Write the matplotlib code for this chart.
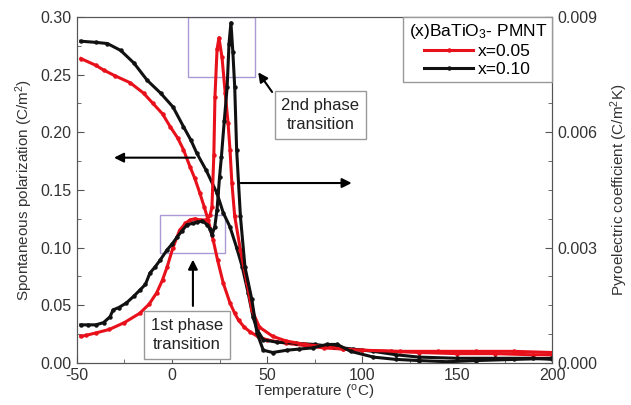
import matplotlib
matplotlib.use("Agg")
import matplotlib.pyplot as plt
from matplotlib.patches import Rectangle
from matplotlib.ticker import MultipleLocator, FormatStrFormatter

plt.rcParams['font.family'] = ['Liberation Sans', 'DejaVu Sans']
plt.rcParams['mathtext.default'] = 'regular'
plt.rcParams['axes.unicode_minus'] = False

# spontaneous polarization (C/m^2), left axis
t_p005 = [-48, -40, -36, -30, -22, -15, -10, -5, -1, 3, 6, 9.5, 12, 14.7, 17, 19, 21.6, 24,
          27, 30.5, 33, 35, 38, 41, 45, 50, 60, 70, 80, 90, 100, 115, 130, 150, 170, 190, 200]
p005 = [0.264, 0.258, 0.254, 0.249, 0.243, 0.234, 0.225, 0.216, 0.205, 0.195, 0.185, 0.170,
        0.160, 0.147, 0.135, 0.124, 0.107, 0.089, 0.069, 0.052, 0.043, 0.037, 0.031, 0.027,
        0.023, 0.020, 0.017, 0.015, 0.013, 0.012, 0.011, 0.010, 0.009, 0.008, 0.008, 0.007, 0.007]

t_p010 = [-48, -40, -34, -27, -20, -13, -6, 0.5, 6, 10, 13, 18, 23.7, 27, 30.5, 34, 37, 40,
          42.6, 44.7, 48, 55, 65, 75, 85, 95, 106, 118, 130, 150, 170, 190, 200]
p010 = [0.279, 0.278, 0.277, 0.271, 0.260, 0.245, 0.234, 0.222, 0.205, 0.193, 0.182, 0.167,
        0.147, 0.130, 0.118, 0.100, 0.083, 0.061, 0.040, 0.029, 0.020, 0.018, 0.017, 0.016,
        0.014, 0.012, 0.010, 0.007, 0.005, 0.004, 0.004, 0.004, 0.003]

# pyroelectric coefficient (C/m^2K), right axis
t_py005 = [-48, -45, -40, -33, -25, -17, -12, -8, -5, -2.6, 0.5, 4, 7, 9.5, 12, 14.7, 18, 20,
           21, 22, 22.6, 23.7, 24.7, 26.3, 28, 29.5, 30.5, 31.5, 33, 36, 39.5, 42, 46, 53, 60,
           70, 80, 90, 100, 120, 140, 160, 180, 200]
py005 = [0.00069, 0.00072, 0.00078, 0.00087, 0.00105, 0.00129, 0.00153, 0.00183, 0.00216,
         0.00249, 0.00300, 0.00345, 0.00363, 0.00372, 0.00375, 0.00372, 0.00372, 0.00384,
         0.00405, 0.00540, 0.00693, 0.00816, 0.00846, 0.00795, 0.00702, 0.00624, 0.00555,
         0.00468, 0.00381, 0.00294, 0.00207, 0.00138, 0.00093, 0.00069, 0.00057, 0.00048,
         0.00042, 0.00036, 0.00033, 0.00030, 0.00030, 0.00030, 0.00030, 0.00027]

t_py010 = [-48, -44, -40, -36, -32.6, -31, -28, -24, -20, -17, -14, -11.6, -9, -6.3, -2.6, 0,
           2.6, 5, 8, 11, 13, 16, 18.4, 20, 21, 22.5, 23.7, 25, 26, 27.5, 29, 30, 31, 32, 33,
           34, 36, 38.4, 42, 44.7, 48, 53, 60.5, 67, 74, 81.5, 87, 94, 106, 118, 130, 145,
           160, 180, 200]
py010 = [0.00099, 0.00099, 0.00099, 0.00105, 0.00120, 0.00138, 0.00144, 0.00156, 0.00174,
         0.00189, 0.00204, 0.00234, 0.00249, 0.00267, 0.00294, 0.00309, 0.00327, 0.00342,
         0.00360, 0.00363, 0.00366, 0.00369, 0.00360, 0.00348, 0.00333, 0.00354, 0.00399,
         0.00483, 0.00537, 0.00630, 0.00717, 0.00831, 0.00885, 0.00810, 0.00717, 0.00555,
         0.00381, 0.00249, 0.00165, 0.00078, 0.00033, 0.00027, 0.00033, 0.00036, 0.00039,
         0.00048, 0.00048, 0.00030, 0.00015, 0.00009, 0.00006, 0.00003, 0.00006, 0.00009,
         0.00012]

red = '#e8101a'
blk = '#111111'
grey = '#555555'

fig = plt.figure(figsize=(6.31, 4.05), dpi=100)
ax = fig.add_axes([0.122, 0.104, 0.753, 0.854])
ax2 = ax.twinx()

style = dict(lw=2.2, marker='o', ms=2.2)
ax.plot(t_p005, p005, color=red, **style)
ax.plot(t_p010, p010, color=blk, **style)
l1, = ax2.plot(t_py005, py005, color=red, **style)
l2, = ax2.plot(t_py010, py010, color=blk, **style)

ax.set_xlim(-50, 200)
ax.set_ylim(0, 0.30)
ax2.set_ylim(0, 0.009)

ax.xaxis.set_major_locator(MultipleLocator(50))
ax.xaxis.set_minor_locator(MultipleLocator(25))
ax.yaxis.set_major_locator(MultipleLocator(0.05))
ax.yaxis.set_minor_locator(MultipleLocator(0.025))
ax.yaxis.set_major_formatter(FormatStrFormatter('%.2f'))
ax2.yaxis.set_major_locator(MultipleLocator(0.003))
ax2.yaxis.set_minor_locator(MultipleLocator(0.00075))
ax2.yaxis.set_major_formatter(FormatStrFormatter('%.3f'))

for a in (ax, ax2):
    a.tick_params(which='both', direction='in', colors=grey, labelcolor='#333333', labelsize=11.5)
    a.tick_params(which='major', length=5, pad=4)
    a.tick_params(which='minor', length=3)
    for s in a.spines.values():
        s.set_color(grey)
ax.tick_params(top=False, right=False)
ax2.tick_params(left=False)

ax.set_xlabel('Temperature ($^{o}$C)', fontsize=11, color='#333333', labelpad=0)
ax.set_ylabel('Spontaneous polarization (C/m$^2$)', fontsize=11, color='#333333', labelpad=4)
ax2.set_ylabel('Pyroelectric coefficient (C/m$^2$K)', fontsize=11, color='#333333', labelpad=8)

# highlight boxes
ax.add_patch(Rectangle((8.4, 0.248), 35.3, 0.052, fill=False, ec='#a99ad6', lw=1))
ax.add_patch(Rectangle((-6.3, 0.0954), 34.2, 0.0326, fill=False, ec='#a99ad6', lw=1))

arrow = dict(arrowstyle='-|>', color='black', lw=1.5, mutation_scale=14)
ax.annotate('', xy=(-32, 0.178), xytext=(13.5, 0.178), arrowprops=arrow)
ax.annotate('', xy=(96, 0.156), xytext=(34.7, 0.156), arrowprops=arrow)
ax.annotate('', xy=(11, 0.092), xytext=(11, 0.047), arrowprops=arrow)
ax.annotate('', xy=(44.5, 0.254), xytext=(53.5, 0.233), arrowprops=arrow)

box = dict(boxstyle='square,pad=0.4', fc='white', ec='#999999', lw=1)
ax.text(78, 0.215, '2nd phase\ntransition', fontsize=12, ha='center', va='center',
        color='#222222', bbox=box, linespacing=1.35)
ax.text(7.9, 0.024, '1st phase\ntransition', fontsize=12, ha='center', va='center',
        color='#222222', bbox=box, linespacing=1.35)

leg = ax2.legend([l1, l2], ['x=0.05', 'x=0.10'], title='(x)BaTiO$_3$- PMNT',
                 loc='upper right', borderaxespad=0, fontsize=12.5, title_fontsize=12.5,
                 fancybox=False, framealpha=1, edgecolor='#999999', handlelength=2.8,
                 handletextpad=0.3, labelspacing=0.15, borderpad=0.3, numpoints=1)
leg.get_frame().set_linewidth(1)

fig.savefig('out.png', dpi=100)
